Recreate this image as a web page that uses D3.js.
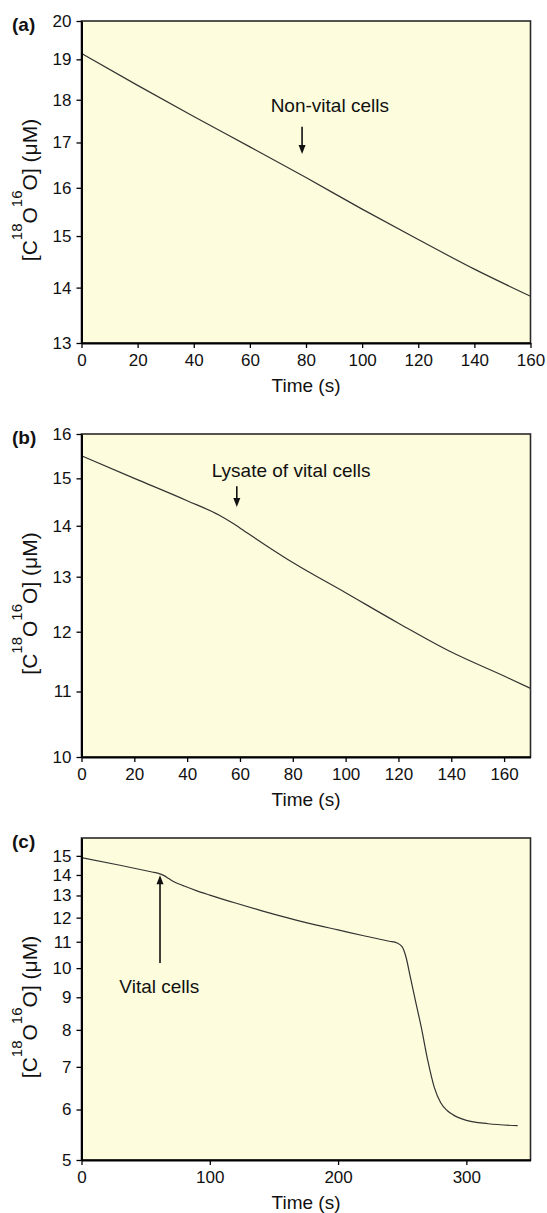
<!DOCTYPE html>
<html><head><meta charset="utf-8">
<script src="https://cdn.jsdelivr.net/npm/d3@7"></script>
<style>
body{margin:0;background:#fff}
text{font-family:"Liberation Sans",Arial,Helvetica,sans-serif;fill:#111}
</style>
</head><body>
<svg id="chart" width="547" height="1213"></svg>
<script>
// ---- Panel (a): non-vital cells ----
const timeA = [0, 20, 40, 60, 80, 100, 120, 140, 160];
const concA = [19.15, 18.35, 17.6, 16.9, 16.22, 15.55, 14.93, 14.35, 13.84];
const xTicksA = [0, 20, 40, 60, 80, 100, 120, 140, 160];
const yTicksA = [13, 14, 15, 16, 17, 18, 19, 20];

// ---- Panel (b): lysate of vital cells ----
const timeB = [0, 20, 40, 52, 57, 62, 70, 80, 100, 120, 140, 160, 170];
const concB = [15.5, 15.0, 14.52, 14.22, 14.06, 13.88, 13.6, 13.27, 12.7, 12.15, 11.65, 11.25, 11.05];
const xTicksB = [0, 20, 40, 60, 80, 100, 120, 140, 160];
const yTicksB = [10, 11, 12, 13, 14, 15, 16];

// ---- Panel (c): vital cells ----
const timeC = [0, 30, 55, 60, 64, 68, 72, 76, 80, 90, 100, 120, 140, 160, 180, 200, 220, 240, 246, 250, 253, 256, 260, 265, 270, 275, 280, 285, 290, 300, 317, 340];
const concC = [14.9, 14.5, 14.15, 14.08, 13.98, 13.82, 13.66, 13.55, 13.45, 13.22, 13.02, 12.65, 12.31, 12.0, 11.72, 11.48, 11.24, 11.02, 10.95, 10.8, 10.4, 9.75, 8.95, 8.05, 7.15, 6.5, 6.15, 5.98, 5.88, 5.77, 5.7, 5.66];
const xTicksC = [0, 100, 200, 300];
const yTicksC = [5, 6, 7, 8, 9, 10, 11, 12, 13, 14, 15];

const panelLabels = ["(a)", "(b)", "(c)"];
const annotationTexts = ["Non-vital cells", "Lysate of vital cells", "Vital cells"];

const svg = d3.select("#chart");

function drawPanel(opt) {
  const {letter, times, concs, xDomain, yDomain, xTicks, yTicks, top, bottom, ann} = opt;
  const left = 81.5, right = 530.5;
  const x = d3.scaleLinear().domain(xDomain).range([left, right]);
  const y = d3.scaleLog().domain(yDomain).range([bottom, top]);
  const g = svg.append("g");

  g.append("rect").attr("x", left).attr("y", top)
    .attr("width", right - left).attr("height", bottom - top)
    .attr("fill", "#fdfcdc").attr("stroke", "#2a2a2a").attr("stroke-width", 1.6);

  const line = d3.line().x((d, i) => x(times[i])).y(d => y(d)).curve(d3.curveMonotoneX);
  g.append("path").datum(concs).attr("d", line)
    .attr("fill", "none").attr("stroke", "#333").attr("stroke-width", 1.2);

  const xa = g.append("g").attr("transform", `translate(0,${bottom})`)
    .call(d3.axisBottom(x).tickValues(xTicks).tickFormat(d3.format("d")).tickSize(5).tickSizeOuter(0).tickPadding(6));
  const ya = g.append("g").attr("transform", `translate(${left},0)`)
    .call(d3.axisLeft(y).tickValues(yTicks).tickFormat(d3.format("d")).tickSize(5).tickSizeOuter(0).tickPadding(5));
  [xa, ya].forEach(a => {
    a.select(".domain").attr("stroke", "#000").attr("stroke-width", 2);
    a.selectAll(".tick line").attr("stroke", "#000").attr("stroke-width", 1.3);
    a.selectAll(".tick text").attr("font-size", 17).attr("font-family", "Liberation Sans, Arial, sans-serif").attr("fill", "#111");
  });

  // x title
  g.append("text").attr("x", (left + right) / 2).attr("y", bottom + 49)
    .attr("text-anchor", "middle").attr("font-size", 19).text("Time (s)");

  // y title
  const cy = (top + bottom) / 2 + 8;
  const yt = g.append("text").attr("transform", `translate(37,${cy}) rotate(-90)`)
    .attr("text-anchor", "middle").attr("font-size", 21);
  yt.append("tspan").text("[C");
  yt.append("tspan").attr("font-size", 15).attr("dy", -15).text("18");
  yt.append("tspan").attr("dy", 15).text("O");
  yt.append("tspan").attr("font-size", 15).attr("dy", -15).text("16");
  yt.append("tspan").attr("dy", 15).text("O] (\u03BCM)");

  // panel letter
  g.append("text").attr("x", 12).attr("y", top + 10).attr("font-size", 19)
    .attr("font-weight", "bold").text(letter);

  // annotation
  const ax = x(ann.t);
  const y1 = y(ann.from), y2 = y(ann.to);
  const dir = Math.sign(y2 - y1);
  g.append("line").attr("x1", ax).attr("x2", ax).attr("y1", y1).attr("y2", y2 - dir * 7)
    .attr("stroke", "#111").attr("stroke-width", 1.6);
  g.append("path").attr("d", `M${ax},${y2} L${ax - 3.5},${y2 - dir * 9} L${ax + 3.5},${y2 - dir * 9} Z`)
    .attr("fill", "#111");
  g.append("text").attr("x", x(ann.textT)).attr("y", y(ann.textV))
    .attr("font-size", 19).text(ann.text);
}

drawPanel({letter: panelLabels[0], times: timeA, concs: concA, xDomain: [0, 160], yDomain: [13, 20],
  xTicks: xTicksA, yTicks: yTicksA, top: 21, bottom: 343,
  ann: {t: 78.6, from: 17.36, to: 16.74, textT: 67.4, textV: 17.71, text: annotationTexts[0]}});

drawPanel({letter: panelLabels[1], times: timeB, concs: concB, xDomain: [0, 170], yDomain: [10, 16],
  xTicks: xTicksB, yTicks: yTicksB, top: 434, bottom: 757,
  ann: {t: 58.8, from: 14.83, to: 14.39, textT: 49.3, textV: 15.03, text: annotationTexts[1]}});

drawPanel({letter: panelLabels[2], times: timeC, concs: concC, xDomain: [0, 350], yDomain: [5, 16],
  xTicks: xTicksC, yTicks: yTicksC, top: 838, bottom: 1160,
  ann: {t: 61.2, from: 10.19, to: 13.98, textT: 29.5, textV: 9.13, text: annotationTexts[2]}});
</script>
</body></html>
